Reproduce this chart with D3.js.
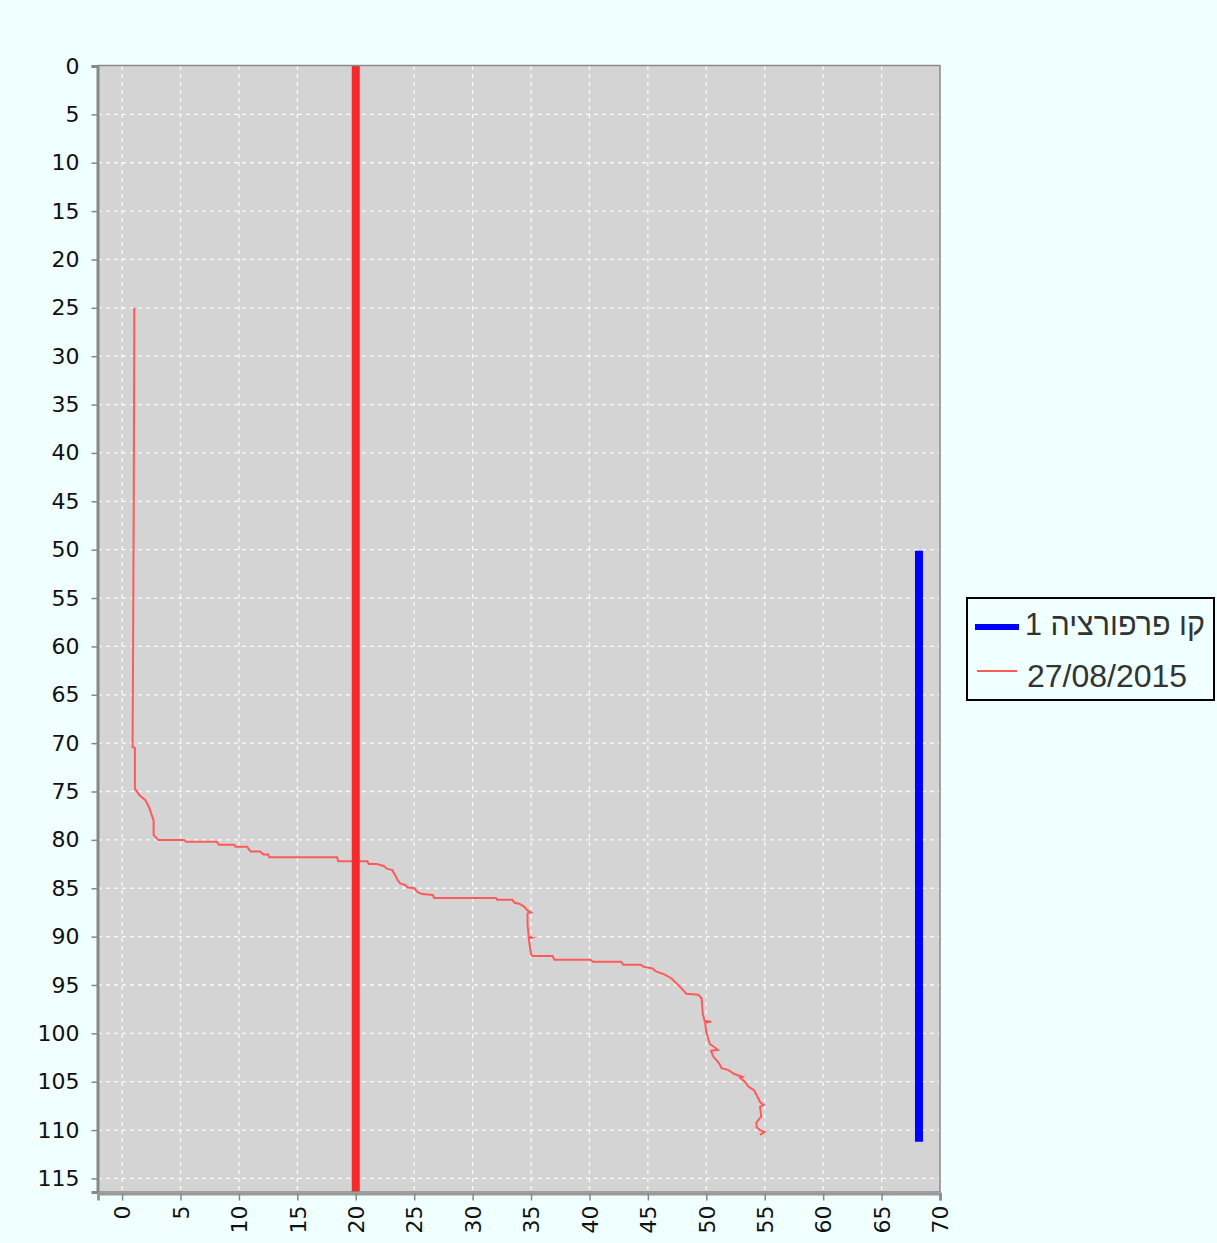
<!DOCTYPE html>
<html>
<head>
<meta charset="utf-8">
<script src="https://cdn.jsdelivr.net/npm/d3@7"></script>
<style>
  body { margin: 0; background: #f0ffff; }
  svg { display: block; }
</style>
</head>
<body>
<div id="chart"></div>
<script>
// ticks
let xTicks = [0, 5, 10, 15, 20, 25, 30, 35, 40, 45, 50, 55, 60, 65, 70];
let yTicks = [0, 5, 10, 15, 20, 25, 30, 35, 40, 45, 50, 55, 60, 65, 70, 75, 80, 85, 90, 95, 100, 105, 110, 115];

// red profile 27/08/2015 (value, depth)
let profileValue = [1.05, 1.0, 0.9, 1.1, 1.1, 1.5, 2.0, 2.3, 2.5, 2.7, 2.7, 3.1, 5.3, 5.5, 8.1, 8.3, 9.6, 9.7, 10.7, 11.0,
  11.8, 12.1, 12.5, 12.6, 18.4, 18.5, 21.0, 21.1, 21.8, 22.4, 22.7, 23.1, 23.4, 23.6, 23.8, 24.3, 24.4, 25.0, 25.3, 25.7,
  26.6, 26.7, 32.0, 32.1, 33.4, 33.6, 34.0, 34.4, 34.7, 35.0, 34.7, 34.7, 34.8, 35.1, 34.8, 35.0, 35.1, 36.85, 37.0, 40.1,
  40.3, 42.7, 42.9, 44.4, 44.6, 45.4, 45.7, 46.4, 47.0, 47.6, 48.0, 48.3, 49.3, 49.6, 49.7, 49.85, 50.4, 49.9, 50.0, 50.3,
  51.0, 50.4, 50.6, 51.1, 51.3, 51.9, 52.4, 53.1, 52.9, 53.3, 53.6, 54.1, 54.4, 54.6, 54.9, 54.6, 54.7, 54.3, 54.3, 54.6,
  55.0, 54.6];
let profileDepth = [25.0, 45.0, 70.4, 70.5, 74.7, 75.4, 75.9, 76.6, 77.3, 78.0, 79.5, 80.0, 80.0, 80.2, 80.2, 80.5, 80.5, 80.7, 80.7, 81.2,
  81.2, 81.5, 81.5, 81.8, 81.8, 82.2, 82.2, 82.5, 82.5, 82.7, 83.0, 83.1, 83.7, 84.2, 84.5, 84.7, 84.9, 85.0, 85.4, 85.6,
  85.7, 86.0, 86.0, 86.2, 86.2, 86.5, 86.6, 86.9, 87.3, 87.5, 87.6, 88.7, 90.0, 90.1, 90.2, 91.8, 92.0, 92.0, 92.4, 92.4,
  92.6, 92.6, 92.9, 92.9, 93.1, 93.3, 93.6, 93.9, 94.3, 95.0, 95.5, 95.9, 96.0, 96.4, 98.0, 98.7, 98.8, 98.9, 99.9, 101.1,
  101.7, 101.8, 102.4, 103.1, 103.6, 103.8, 104.2, 104.5, 104.6, 105.0, 105.5, 105.9, 106.6, 107.1, 107.4, 107.6, 108.6, 109.2, 109.7, 110.0,
  110.2, 110.5];

// blue perforation interval
let perforationValue = 68.2;
let perforationDepth = [50.1, 111.2];

// red vertical reference
let thresholdValue = 20;

let legendLabels = ['קו פרפורציה 1', '27/08/2015'];
let legendColors = ['#0000ff', '#ff5a5a'];

let width = 1217, height = 1243;
let plot = { left: 98, right: 940, top: 66, bottom: 1192 };

let svg = d3.select('#chart').append('svg')
  .attr('width', width)
  .attr('height', height);

svg.append('rect')
  .attr('width', width).attr('height', height)
  .attr('fill', '#f0ffff');

let x = d3.scaleLinear().domain([-2.06, 70]).range([plot.left, plot.right]);
let y = d3.scaleLinear().domain([0, 116.4]).range([plot.top, plot.bottom]);

svg.append('rect')
  .attr('x', plot.left).attr('y', plot.top)
  .attr('width', plot.right - plot.left)
  .attr('height', plot.bottom - plot.top)
  .attr('fill', '#d4d4d4');

// grid
svg.append('g').selectAll('line')
  .data(xTicks.filter(d => d < 70))
  .enter().append('line')
  .attr('x1', d => x(d)).attr('x2', d => x(d))
  .attr('y1', plot.top).attr('y2', plot.bottom)
  .attr('stroke', '#ffffff').attr('stroke-width', 1.3)
  .attr('stroke-dasharray', '4,4').attr('opacity', 0.9);

svg.append('g').selectAll('line')
  .data(yTicks.filter(d => d > 0))
  .enter().append('line')
  .attr('x1', plot.left).attr('x2', plot.right)
  .attr('y1', d => y(d)).attr('y2', d => y(d))
  .attr('stroke', '#ffffff').attr('stroke-width', 1.3)
  .attr('stroke-dasharray', '4,4').attr('opacity', 0.9);

// profile line
let pts = profileValue.map((v, i) => [v, profileDepth[i]]);
let line = d3.line().x(d => x(d[0])).y(d => y(d[1]));
svg.append('path')
  .datum(pts)
  .attr('d', line)
  .attr('fill', 'none')
  .attr('stroke', '#ff5a5a')
  .attr('stroke-width', 2);

// thick red reference line
svg.append('line')
  .attr('x1', x(thresholdValue)).attr('x2', x(thresholdValue))
  .attr('y1', plot.top).attr('y2', plot.bottom)
  .attr('stroke', '#f52a2a').attr('stroke-width', 8);

// blue perforation
svg.append('line')
  .attr('x1', x(perforationValue)).attr('x2', x(perforationValue))
  .attr('y1', y(perforationDepth[0])).attr('y2', y(perforationDepth[1]))
  .attr('stroke', '#0000ff').attr('stroke-width', 8);

// outline
svg.append('rect')
  .attr('x', plot.left).attr('y', plot.top - 0.5)
  .attr('width', plot.right - plot.left)
  .attr('height', plot.bottom - plot.top + 0.5)
  .attr('fill', 'none')
  .attr('stroke', '#8a8a8a').attr('stroke-width', 1.5);

// axes
let yAxis = svg.append('g')
  .attr('transform', 'translate(' + (plot.left - 0.5) + ',0)')
  .call(d3.axisLeft(y).tickValues(yTicks).tickSize(6).tickPadding(12));
yAxis.select('.domain').attr('stroke', '#888').attr('stroke-width', 3);
yAxis.selectAll('.tick line').attr('stroke', '#888').attr('stroke-width', 1.5);
yAxis.selectAll('text')
  .attr('font-family', 'DejaVu Sans')
  .attr('font-size', 22)
  .attr('fill', '#111');

let xAxis = svg.append('g')
  .attr('transform', 'translate(0,' + (plot.bottom + 1.5) + ')')
  .call(d3.axisBottom(x).tickValues(xTicks).tickSize(7));
xAxis.select('.domain').attr('stroke', '#999').attr('stroke-width', 3);
xAxis.selectAll('.tick line').attr('stroke', '#888').attr('stroke-width', 1.5);
xAxis.selectAll('text')
  .attr('font-family', 'DejaVu Sans')
  .attr('font-size', 22)
  .attr('fill', '#111')
  .attr('text-anchor', 'end')
  .attr('y', 0)
  .attr('dy', '0.35em')
  .attr('transform', 'translate(0,12) rotate(-90)');

// legend
let lg = svg.append('g');
lg.append('rect')
  .attr('x', 967).attr('y', 598)
  .attr('width', 247).attr('height', 102)
  .attr('fill', '#f0ffff')
  .attr('stroke', '#000').attr('stroke-width', 2);

lg.append('line')
  .attr('x1', 975).attr('x2', 1019)
  .attr('y1', 627).attr('y2', 627)
  .attr('stroke', legendColors[0]).attr('stroke-width', 6);
lg.append('line')
  .attr('x1', 977).attr('x2', 1017)
  .attr('y1', 671).attr('y2', 671)
  .attr('stroke', legendColors[1]).attr('stroke-width', 2);

lg.selectAll('text.lbl')
  .data(legendLabels)
  .enter().append('text')
  .attr('class', 'lbl')
  .attr('x', (d, i) => i === 0 ? 1025 : 1027)
  .attr('y', (d, i) => i === 0 ? 635 : 687)
  .attr('font-family', 'Liberation Sans, Arial, sans-serif')
  .attr('font-size', 32)
  .attr('fill', '#333')
  .attr('textLength', (d, i) => i === 0 ? 180 : null)
  .attr('lengthAdjust', 'spacingAndGlyphs')
  .text(d => d);
</script>
</body>
</html>
